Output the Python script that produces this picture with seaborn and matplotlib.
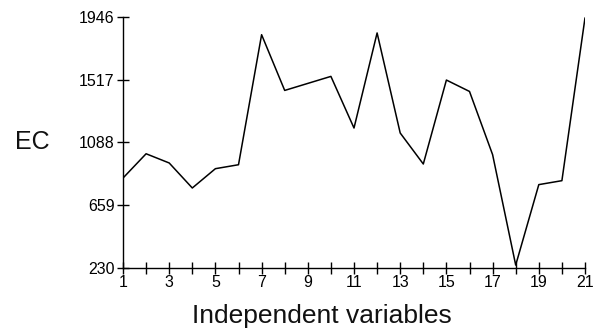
import matplotlib
matplotlib.use("Agg")
import matplotlib.pyplot as plt
import pandas as pd
import seaborn as sns

# Independent variable index and the EC value for each one
variables = list(range(1, 22))
ec_values = [845, 1011, 948, 777, 909, 936, 1825, 1444, 1492, 1540,
             1187, 1837, 1153, 941, 1515, 1437, 1005, 250, 800, 827, 1940]

y_ticks = [230, 659, 1088, 1517, 1946]
x_tick_labels = [1, 3, 5, 7, 9, 11, 13, 15, 17, 19, 21]

sns.set_style("ticks")
plt.rcParams["font.family"] = ["Liberation Sans", "DejaVu Sans"]

df = pd.DataFrame({"variable": variables, "EC": ec_values})

fig = plt.figure(figsize=(5.95, 3.33), dpi=100)
ax = fig.add_axes([123 / 595, 1 - 268 / 333, (585 - 123) / 595, (268 - 17) / 333])

sns.lineplot(data=df, x="variable", y="EC", ax=ax, color="black", linewidth=1.1)

ax.set_xlim(1, 21)
ax.set_ylim(230, 1946)
ax.set_xticks(variables)
ax.set_xticklabels([str(v) if v in x_tick_labels else "" for v in variables])
ax.set_yticks(y_ticks)
ax.set_yticklabels([str(v) for v in y_ticks])

ax.tick_params(axis="both", direction="inout", length=8, width=1, color="black",
               labelsize=11.5, labelcolor="black")
ax.tick_params(axis="x", pad=1)
ax.tick_params(axis="y", pad=2)
for side in ("top", "right"):
    ax.spines[side].set_visible(False)
for side in ("left", "bottom"):
    ax.spines[side].set_color("black")
    ax.spines[side].set_linewidth(1)

ax.set_xlabel("")
ax.set_ylabel("")
fig.text(322 / 595, 1 - 316 / 333, "Independent variables", fontsize=19,
         ha="center", va="center", color="#111111")
fig.text(32 / 595, 1 - 142 / 333, "EC", fontsize=18, ha="center", va="center",
         color="#111111")

fig.savefig("out.png", dpi=100, facecolor="white")
